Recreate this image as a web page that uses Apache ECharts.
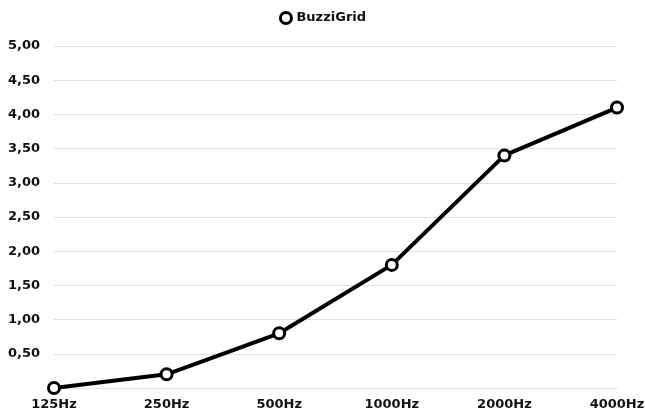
<!DOCTYPE html>
<html><head><meta charset="utf-8">
<script src="https://cdn.jsdelivr.net/npm/echarts@6/dist/echarts.min.js"></script>
<style>html,body{margin:0;padding:0;background:#fff}#c{width:645px;height:417px}</style>
</head><body><div id="c"></div>
<script>
const categories = ['125Hz','250Hz','500Hz','1000Hz','2000Hz','4000Hz'];
const seriesName = 'BuzziGrid';
const values = [0, 0.2, 0.8, 1.8, 3.4, 4.1];
const yMin = 0, yMax = 5, yStep = 0.5;

const font = '"DejaVu Sans", sans-serif';
const chart = echarts.init(document.getElementById('c'));
chart.setOption({
  animation: false,
  legend: {
    top: 6, left: 'center', itemWidth: 11, itemHeight: 11, itemGap: 8,
    textStyle: { fontFamily: font, fontWeight: 'bold', fontSize: 13, color: '#111' },
    itemStyle: { color: '#fff', borderColor: '#000', borderWidth: 3 },
    data: [{ name: seriesName, icon: 'circle' }]
  },
  grid: { left: 54, right: 28, top: 46, bottom: 29, containLabel: false, outerBoundsMode: 'none' },
  xAxis: {
    type: 'category', data: categories, boundaryGap: false,
    axisLine: { show: true, lineStyle: { color: '#e3e0db', width: 1 } },
    axisTick: { show: false },
    axisLabel: { fontFamily: font, fontWeight: 'bold', fontSize: 13, color: '#111', margin: 10 }
  },
  yAxis: {
    type: 'value', min: yMin, max: yMax, interval: yStep,
    axisLine: { show: false }, axisTick: { show: false },
    splitLine: { lineStyle: { color: '#e3e0db', width: 1 } },
    axisLabel: {
      fontFamily: font, fontWeight: 'bold', fontSize: 13, color: '#111', margin: 14,
      formatter: v => v === 0 ? '' : v.toFixed(2).replace('.', ',')
    }
  },
  series: [{
    name: seriesName, type: 'line', data: values,
    symbol: 'circle', symbolSize: 11,
    lineStyle: { color: '#000', width: 4 },
    itemStyle: { color: '#fff', borderColor: '#000', borderWidth: 3 }
  }]
});
</script></body></html>
